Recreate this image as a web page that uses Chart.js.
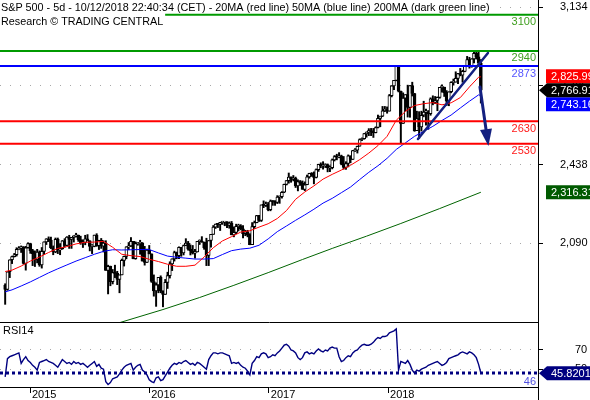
<!DOCTYPE html>
<html>
<head>
<meta charset="utf-8">
<script src="https://cdn.jsdelivr.net/npm/chart.js@4/dist/chart.umd.min.js"></script>
<style>
html, body { margin: 0; padding: 0; background: #fff; }
#wrap { position: relative; width: 590px; height: 400px; overflow: hidden; }
#price { position: absolute; left: 0; top: 0; }
#rsi { position: absolute; left: 0; top: 322px; }
</style>
</head>
<body>
<div id="wrap">
  <canvas id="price" width="590" height="322"></canvas>
  <canvas id="rsi" width="590" height="78"></canvas>
</div>
<script>
const FONT = '"Liberation Sans", Arial, sans-serif';
Chart.defaults.font.family = FONT;
Chart.defaults.font.size = 11;
Chart.defaults.color = '#000';
Chart.defaults.animation = false;

const title1 = 'S&P 500 - 5d - 10/12/2018 22:40:34 (CET) - 20MA (red line) 50MA (blue line) 200MA (dark green line)';
const title2 = 'Research \u00A9 TRADING CENTRAL';

// weekly bars, week 0 = 17 Oct 2014 ... week 208 = 12 Oct 2018
const opens = [1906,1887,1965,2018,2032,2040,2064,2068,2075,2002,2071,2089,2058,2045,2019,2052,1995,2055,2097,2110,
  2105,2071,2053,2108,2061,2067,2102,2081,2118,2108,2116,2123,2126,2107,2093,2094,2110,2101,2077,2077,
  2127,2080,2104,2078,2092,1971,1989,1921,1961,1958,1931,1951,2015,2033,2075,2079,2099,2023,2089,2090,
  2092,2012,2006,2061,2044,1922,1880,1907,1940,1880,1865,1918,1948,2000,2022,2050,2036,2073,2048,2081,
  2092,2065,2057,2047,2052,2099,2099,2096,2071,2037,2103,2130,2162,2175,2174,2183,2184,2184,2169,2180,
  2128,2139,2165,2168,2154,2133,2141,2126,2085,2164,2182,2213,2192,2260,2258,2264,2239,2277,2275,2271,
  2295,2297,2316,2351,2367,2383,2373,2378,2344,2363,2356,2329,2349,2384,2399,2391,2382,2416,2439,2432,
  2433,2438,2423,2425,2459,2473,2472,2477,2441,2426,2443,2477,2461,2500,2502,2519,2549,2553,2575,2581,
  2588,2582,2579,2602,2642,2652,2676,2683,2674,2743,2786,2810,2873,2762,2620,2732,2747,2691,2787,2752,
  2588,2641,2604,2656,2670,2670,2663,2728,2713,2721,2735,2779,2780,2755,2718,2760,2801,2802,2819,2840,
  2833,2850,2875,2902,2872,2905,2930,2914,2886];
const highs = [1912,1965,2018,2034,2046,2071,2076,2079,2076,2077,2093,2091,2064,2057,2064,2057,2072,2097,2111,2119,
  2118,2079,2114,2114,2089,2103,2111,2120,2126,2117,2124,2135,2127,2122,2106,2126,2129,2102,2085,2127,
  2133,2104,2112,2102,2102,1994,1990,1975,1994,1967,1951,2021,2034,2076,2094,2116,2099,2097,2094,2104,
  2094,2077,2065,2081,2044,1951,1916,1940,1947,1881,1931,1963,2009,2022,2056,2052,2075,2073,2083,2111,
  2099,2084,2081,2064,2099,2106,2120,2096,2113,2103,2130,2169,2176,2178,2183,2188,2187,2187,2185,2187,
  2163,2175,2175,2173,2169,2148,2148,2133,2182,2189,2214,2214,2260,2278,2273,2271,2282,2279,2279,2301,
  2300,2319,2352,2368,2401,2384,2390,2383,2371,2368,2366,2362,2392,2400,2403,2406,2419,2440,2446,2451,
  2442,2441,2433,2463,2478,2484,2491,2480,2474,2451,2481,2477,2501,2509,2520,2552,2556,2576,2583,2597,
  2598,2598,2605,2657,2652,2695,2695,2693,2748,2787,2810,2873,2873,2763,2755,2747,2789,2787,2802,2753,
  2674,2672,2674,2718,2683,2677,2733,2742,2739,2737,2779,2790,2780,2765,2760,2804,2816,2848,2841,2863,
  2855,2876,2916,2912,2906,2941,2940,2940,2902];
const lows = [1821,1883,1939,2001,2030,2034,2062,2050,1999,1972,2069,2046,1992,1988,2004,1989,1981,2041,2085,2098,
  2067,2040,2049,2045,2040,2064,2073,2080,2068,2068,2096,2118,2099,2086,2072,2084,2101,2057,2045,2075,
  2077,2063,2068,2052,1971,1867,1903,1911,1939,1908,1872,1951,1990,2022,2062,2076,2022,2020,2082,2042,
  2012,1994,2006,2044,1918,1857,1812,1872,1872,1810,1865,1891,1937,1970,2012,2022,2023,2033,2039,2080,
  2060,2039,2043,2025,2052,2085,2095,2064,1992,1992,2074,2130,2156,2160,2147,2174,2168,2160,2157,2128,
  2119,2133,2145,2150,2114,2124,2119,2084,2085,2156,2181,2187,2187,2248,2253,2234,2234,2258,2258,2266,
  2267,2290,2314,2348,2356,2360,2366,2337,2322,2346,2329,2323,2349,2378,2386,2353,2379,2408,2424,2418,
  2425,2406,2407,2419,2454,2459,2468,2437,2418,2417,2428,2446,2461,2496,2489,2519,2544,2550,2559,2566,
  2566,2558,2578,2600,2605,2650,2672,2665,2674,2737,2769,2808,2759,2533,2620,2675,2648,2647,2741,2585,
  2588,2553,2586,2649,2612,2594,2656,2702,2707,2676,2731,2758,2739,2699,2698,2755,2789,2802,2796,2830,
  2802,2848,2873,2864,2868,2887,2904,2874,2710];
const closes = [1887,1965,2018,2032,2040,2064,2068,2075,2002,2071,2089,2058,2045,2019,2052,1995,2055,2097,2110,2105,
  2071,2053,2108,2061,2067,2102,2081,2118,2108,2116,2123,2126,2107,2093,2094,2110,2101,2077,2077,2127,
  2080,2104,2078,2092,1971,1989,1921,1961,1958,1931,1951,2015,2033,2075,2079,2099,2023,2089,2090,2092,
  2012,2006,2061,2044,1922,1880,1907,1940,1880,1865,1918,1948,2000,2022,2050,2036,2073,2048,2081,2092,
  2065,2057,2047,2052,2099,2099,2096,2071,2037,2103,2130,2162,2175,2174,2183,2184,2184,2169,2180,2128,
  2139,2165,2168,2154,2133,2141,2126,2085,2164,2182,2213,2192,2260,2258,2264,2239,2277,2275,2271,2295,
  2297,2316,2351,2367,2383,2373,2378,2344,2363,2356,2329,2349,2384,2399,2391,2382,2416,2439,2432,2433,
  2438,2423,2425,2459,2473,2472,2477,2441,2426,2443,2477,2461,2500,2502,2519,2549,2553,2575,2581,2588,
  2582,2579,2602,2642,2652,2676,2683,2674,2743,2786,2810,2873,2762,2620,2732,2747,2691,2787,2752,2588,
  2641,2604,2656,2670,2670,2663,2728,2713,2721,2735,2779,2780,2755,2718,2760,2801,2802,2819,2840,2833,
  2850,2875,2902,2872,2905,2930,2914,2886,2767];

// moving averages, sampled every 4 weeks
const maWeeks = [0,3,7,11,15,19,23,27,31,35,39,43,47,51,55,59,63,67,71,75,79,83,87,91,95,99,103,107,111,115,
  119,123,127,131,135,139,143,147,151,155,159,163,167,171,175,179,183,187,191,195,199,203,207,208];
const ma20 = [1966,1972,1990,2012,2030,2050,2068,2076,2088,2095,2096,2099,2073,2042,2036,2032,2020,2010,1998,1989,
  1989,1994,2030,2071,2101,2120,2140,2146,2162,2177,2200,2235,2285,2317,2344,2374,2395,2414,2435,2460,
  2489,2522,2563,2634,2673,2699,2707,2712,2702,2711,2734,2781,2824,2826];
const ma50 = [1876,1885,1902,1920,1940,1960,1978,1995,2012,2027,2042,2055,2062,2061,2062,2063,2063,2048,2034,2029,
  2025,2021,2021,2023,2041,2058,2065,2069,2082,2110,2142,2167,2192,2216,2241,2268,2289,2314,2339,2372,
  2404,2433,2466,2505,2534,2563,2585,2607,2633,2657,2688,2718,2746,2743];
const ma200Weeks = [48,69,85,100,115,130,143,158,173,190,208];
const ma200 = [1734,1798,1851,1905,1961,2019,2068,2122,2178,2244,2316];

const levels = [3100, 2940, 2873, 2630, 2530];
const priceTicks = [3134, 2786, 2438, 2090];
const lastValues = [2825.99, 2766.91, 2743.16, 2316.31];   // 20MA, close, 50MA, 200MA
const trendLine = [[180.5, 2551], [211.1, 2931]];
const forecastArrow = [[207.6, 2781], [211.3, 2520]];

const rsi = [42,61,63,64,65,66,67,56,60,63,59,57,54,52,49,57,58,59,60,58,
  57,56,54,52,56,60,58,56,57,55,58,56,57,55,56,54,52,54,56,58,
  53,55,51,50,37,34,36,40,41,42,45,49,52,54,55,56,49,52,54,55,
  49,47,44,39,37,36,41,42,38,39,43,47,51,54,56,55,57,56,58,59,
  57,55,56,54,57,56,54,52,50,60,64,67,67,66,67,67,66,65,64,56,
  57,56,57,54,52,51,48,44,56,59,63,62,66,67,66,62,63,65,64,67,
  69,72,75,76,74,70,69,67,62,60,62,67,68,66,67,66,69,71,69,68,
  70,69,72,73,72,72,63,58,59,62,64,63,67,69,70,73,75,76,75,75,
  76,78,81,83,82,84,84,85,88,89,90,92,49,58,57,56,59,55,49,46,
  49,48,50,51,52,54,55,56,57,58,56,54,55,57,61,62,63,64,65,67,
  68,67,66,68,67,65,62,55,46];
const rsiTicks = [70, 50];
const rsiLevel = 46;
const rsiLast = 45.8201;

const yearLabels = ['2015', '2016', '2017', '2018'];
const yearStarts = [10.86, 63.0, 115.3, 167.4];

const X_MIN = -2.26, X_MAX = 232.98;

function commas(s) {
  const parts = String(s).split('.');
  parts[0] = parts[0].replace(/\B(?=(\d{3})+(?!\d))/g, ',');
  return parts.join('.');
}

function drawTag(ctx, y, text, color, pointer) {
  const h = 14;
  ctx.fillStyle = color;
  ctx.beginPath();
  if (pointer) {
    ctx.moveTo(539, y);
    ctx.lineTo(547, y - h / 2);
    ctx.lineTo(590, y - h / 2);
    ctx.lineTo(590, y + h / 2);
    ctx.lineTo(547, y + h / 2);
    ctx.closePath();
  } else {
    ctx.rect(546, y - h / 2, 44, h);
  }
  ctx.fill();
  ctx.fillStyle = '#fff';
  ctx.textAlign = 'left';
  ctx.textBaseline = 'middle';
  ctx.fillText(text, 551, y + 0.5);
}

// vertical axes: keep the label padding horizontal only, no extra room above/below
function fitRight(s) {
  s.width = 52;
  s.paddingTop = 0;
  s.paddingBottom = 0;
}

const idx = closes.map((c, i) => i);
const bodyData = idx.map(i => ({x: i, y: [opens[i], closes[i]]}));
const wickData = idx.map(i => ({x: i, y: [lows[i], highs[i]]}));
const bodyFill = idx.map(i => closes[i] >= opens[i] ? '#ffffff' : '#000000');

const levelColors = ['#009a00', '#009a00', '#0000ff', '#ff0000', '#ff0000'];
const levelTextColors = ['#3f9f1f', '#3f9f1f', '#5555ff', '#ff1a1a', '#ff1a1a'];

const levelSets = levels.map((v, k) => ({
  type: 'line',
  data: [{x: X_MIN, y: v}, {x: X_MAX, y: v}],
  borderColor: levelColors[k],
  borderWidth: 2,
  pointRadius: 0,
  order: 1
}));

const pricePlugin = {
  id: 'priceExtras',
  afterDraw(chart) {
    const ctx = chart.ctx, xs = chart.scales.x, ys = chart.scales.y, area = chart.chartArea;
    ctx.save();
    ctx.font = '11px ' + FONT;

    // level labels
    ctx.textAlign = 'right';
    ctx.textBaseline = 'middle';
    levels.forEach((v, k) => {
      ctx.fillStyle = levelTextColors[k];
      ctx.fillText(String(v), area.right - 2, ys.getPixelForValue(v) + 7.5);
    });

    // trend line
    ctx.strokeStyle = '#142080';
    ctx.lineWidth = 2.5;
    ctx.lineCap = 'round';
    ctx.beginPath();
    ctx.moveTo(xs.getPixelForValue(trendLine[0][0]), ys.getPixelForValue(trendLine[0][1]));
    ctx.lineTo(xs.getPixelForValue(trendLine[1][0]), ys.getPixelForValue(trendLine[1][1]));
    ctx.stroke();

    // forecast arrow
    const ax = xs.getPixelForValue(forecastArrow[0][0]), ay = ys.getPixelForValue(forecastArrow[0][1]);
    const bx = xs.getPixelForValue(forecastArrow[1][0]), by = ys.getPixelForValue(forecastArrow[1][1]);
    const len = Math.hypot(bx - ax, by - ay), ux = (bx - ax) / len, uy = (by - ay) / len;
    const hl = 17, hw = 6;
    ctx.lineWidth = 3;
    ctx.beginPath();
    ctx.moveTo(ax, ay);
    ctx.lineTo(bx - ux * hl, by - uy * hl);
    ctx.stroke();
    ctx.fillStyle = '#142080';
    ctx.beginPath();
    ctx.moveTo(bx, by);
    ctx.lineTo(bx - ux * hl - uy * hw, by - uy * hl + ux * hw);
    ctx.lineTo(bx - ux * hl + uy * hw, by - uy * hl - ux * hw);
    ctx.closePath();
    ctx.fill();

    // title
    ctx.font = '10.8px ' + FONT;
    ctx.textAlign = 'left';
    ctx.textBaseline = 'alphabetic';
    const w1 = ctx.measureText(title1).width;
    const w2 = ctx.measureText(title2).width;
    ctx.fillStyle = '#fff';
    ctx.fillRect(0, 0, w1 + 3, 13);
    ctx.fillRect(0, 13, w2 + 3, 14);
    ctx.fillStyle = '#000';
    ctx.fillText(title1, 1, 11);
    ctx.fillText(title2, 1, 25);

    // value tags on the right axis
    ctx.font = '11px ' + FONT;
    const closeY = ys.getPixelForValue(lastValues[1]);
    const redY = Math.min(ys.getPixelForValue(lastValues[0]), closeY - 14);
    const blueY = Math.max(ys.getPixelForValue(lastValues[2]), closeY + 14);
    const greenY = ys.getPixelForValue(lastValues[3]);
    drawTag(ctx, redY, commas(lastValues[0].toFixed(2)), '#ff0000', false);
    drawTag(ctx, blueY, commas(lastValues[2].toFixed(2)), '#0000ff', false);
    drawTag(ctx, greenY, commas(lastValues[3].toFixed(2)), '#005a00', false);
    drawTag(ctx, closeY, commas(lastValues[1].toFixed(2)), '#000000', true);
    ctx.restore();
  }
};

new Chart(document.getElementById('price'), {
  type: 'bar',
  data: {
    datasets: [
      {type: 'bar', data: wickData, backgroundColor: '#000', borderWidth: 0, barThickness: 1.3, grouped: false, order: 6},
      {type: 'bar', data: bodyData, backgroundColor: bodyFill, borderColor: '#000', borderWidth: 1,
        borderSkipped: false, barThickness: 3, minBarLength: 1, grouped: false, order: 5},
      {type: 'line', data: ma200Weeks.map((w, k) => ({x: w, y: ma200[k]})), borderColor: '#006400', borderWidth: 1, pointRadius: 0, order: 4},
      {type: 'line', data: maWeeks.map((w, k) => ({x: w, y: ma50[k]})), borderColor: '#0000ff', borderWidth: 1, pointRadius: 0, order: 3},
      {type: 'line', data: maWeeks.map((w, k) => ({x: w, y: ma20[k]})), borderColor: '#ff0000', borderWidth: 1, pointRadius: 0, order: 2},
      ...levelSets
    ]
  },
  options: {
    responsive: false,
    layout: {padding: 0},
    plugins: {legend: {display: false}, tooltip: {enabled: false}},
    scales: {
      x: {type: 'linear', min: X_MIN, max: X_MAX, offset: false, display: false},
      y: {
        position: 'right', min: 1743, max: 3165,
        afterFit: fitRight,
        afterBuildTicks(s) { s.ticks = priceTicks.map(v => ({value: v})); },
        ticks: {padding: 17, callback: v => commas(v), font: {size: 11}},
        grid: {color: '#a8a8a8', tickColor: '#000', tickLength: 5, tickBorderDash: []},
        border: {display: true, color: '#000', width: 1, dash: [1, 9]}
      }
    }
  },
  plugins: [pricePlugin]
});

const rsiPlugin = {
  id: 'rsiExtras',
  afterDraw(chart) {
    const ctx = chart.ctx, ys = chart.scales.y, area = chart.chartArea;
    ctx.save();
    ctx.strokeStyle = '#000';
    ctx.lineWidth = 1;
    ctx.beginPath();
    ctx.moveTo(0, 0.5);
    ctx.lineTo(area.right + 1, 0.5);
    ctx.moveTo(area.right + 0.5, area.bottom);
    ctx.lineTo(area.right + 0.5, chart.height);
    ctx.stroke();
    ctx.font = '11px ' + FONT;
    ctx.fillStyle = '#000';
    ctx.textAlign = 'left';
    ctx.textBaseline = 'middle';
    ctx.fillText('RSI14', 3, 8.5);
    ctx.fillStyle = '#5050e0';
    ctx.textAlign = 'right';
    ctx.fillText(String(rsiLevel), area.right - 2, ys.getPixelForValue(rsiLevel) + 9);
    drawTag(ctx, ys.getPixelForValue(rsiLast), rsiLast.toFixed(4), '#000080', true);
    ctx.restore();
  }
};

new Chart(document.getElementById('rsi'), {
  type: 'line',
  data: {
    datasets: [
      {data: rsi.map((v, i) => ({x: i, y: v})), borderColor: '#000080', borderWidth: 1.4, pointRadius: 0, order: 1},
      {data: [{x: X_MIN, y: rsiLevel}, {x: X_MAX, y: rsiLevel}], borderColor: '#000080', borderWidth: 3,
        borderDash: [3, 3], pointRadius: 0, order: 2}
    ]
  },
  options: {
    responsive: false,
    layout: {padding: 0},
    plugins: {legend: {display: false}, tooltip: {enabled: false}},
    scales: {
      x: {
        type: 'linear', min: X_MIN, max: X_MAX, offset: false,
        afterFit(s) { s.height = 13; s.paddingLeft = 0; s.paddingRight = 0; },
        afterBuildTicks(s) { s.ticks = yearStarts.map(v => ({value: v})); },
        ticks: {align: 'start', labelOffset: 2, padding: -5, minRotation: 0, maxRotation: 0, autoSkip: false,
          callback: (v, i) => yearLabels[i]},
        grid: {drawOnChartArea: false, tickColor: '#000', tickLength: 6},
        border: {display: true, color: '#000'}
      },
      y: {
        position: 'right', min: 31.4, max: 99.2,
        afterFit: fitRight,
        afterBuildTicks(s) { s.ticks = rsiTicks.map(v => ({value: v})); },
        ticks: {padding: 32},
        grid: {color: '#a8a8a8', tickColor: '#000', tickLength: 5, tickBorderDash: []},
        border: {display: true, color: '#000', width: 1, dash: [1, 9]}
      }
    }
  },
  plugins: [rsiPlugin]
});
</script>
</body>
</html>
